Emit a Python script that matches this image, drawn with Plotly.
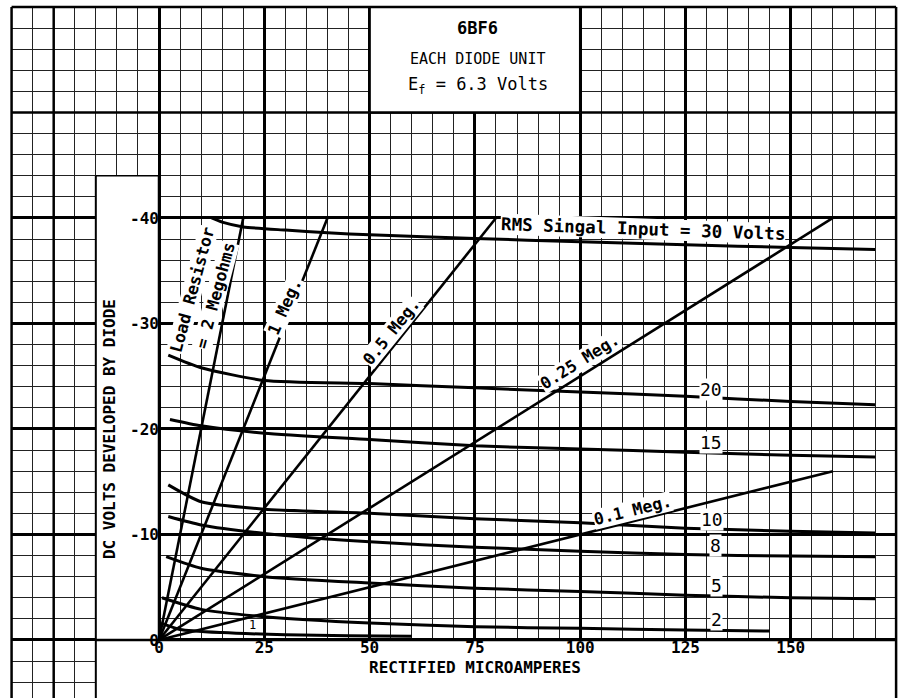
import plotly.graph_objects as go

# ---------------- data ----------------
# RMS signal input curves: rectified current (uA) vs DC volts developed
i_30 = [12.5, 15, 20, 30, 40, 50, 75, 100, 125, 150, 170]
v_30 = [-40.0, -39.6, -39.15, -38.85, -38.6, -38.4, -38.05, -37.75, -37.45, -37.2, -37.0]
i_20 = [2.2, 10, 25, 50, 75, 100, 125, 150, 170]
v_20 = [-27.0, -25.8, -24.6, -24.3, -23.9, -23.5, -23.1, -22.6, -22.3]
i_15 = [2.6, 10, 25, 50, 75, 100, 125, 150, 170]
v_15 = [-20.9, -20.3, -19.6, -19.0, -18.4, -18.1, -17.8, -17.5, -17.35]
i_10 = [2.2, 10, 25, 50, 75, 100, 125, 150, 170]
v_10 = [-14.7, -13.1, -12.4, -12.0, -11.5, -11.1, -10.6, -10.3, -10.15]
i_8 = [2.2, 10, 25, 50, 75, 100, 125, 150, 170]
v_8 = [-11.7, -10.9, -10.1, -9.3, -8.8, -8.4, -8.1, -7.95, -7.9]
i_5 = [1.7, 10, 25, 50, 75, 100, 125, 150, 170]
v_5 = [-7.9, -6.8, -6.0, -5.4, -4.9, -4.6, -4.25, -4.0, -3.9]
i_2 = [0.7, 10, 25, 50, 75, 100, 125, 145]
v_2 = [-4.0, -2.9, -2.2, -1.6, -1.25, -1.1, -0.95, -0.85]
i_1 = [0.5, 5, 15, 30, 45, 60]
v_1 = [-1.6, -1.0, -0.7, -0.5, -0.4, -0.35]

signal_curves = [(i_30, v_30), (i_20, v_20), (i_15, v_15), (i_10, v_10),
                 (i_8, v_8), (i_5, v_5), (i_2, v_2), (i_1, v_1)]

# Load resistor lines (megohms) and their current extent (uA)
load_R = [2, 1, 0.5, 0.25, 0.1]
load_I_max = [20, 40, 80, 160, 160]

# Ticks
x_tick_vals = [0, 25, 50, 75, 100, 125, 150]
x_tick_text = ["0", "25", "50", "75", "100", "125", "150"]
y_tick_vals = [-40, -30, -20, -10, 0]
y_tick_text = ["-40", "-30", "-20", "-10", "0"]

# Curve labels
load_labels = ["Load Resistor", "= 2 Megohms", "1 Meg.", "0.5 Meg.", "0.25 Meg.", "0.1 Meg."]
signal_labels = ["20", "15", "10", "8", "5", "2", "1"]

# ---------------- figure ----------------
MONO = "DejaVu Sans Mono"
fig = go.Figure()

for xs, ys in signal_curves:
    fig.add_trace(go.Scatter(x=xs, y=ys, mode="lines",
                             line=dict(color="black", width=3, shape="spline", smoothing=0.6),
                             hoverinfo="skip", showlegend=False))

for r, imax in zip(load_R, load_I_max):
    fig.add_trace(go.Scatter(x=[0, imax], y=[0, -r * imax], mode="lines",
                             line=dict(color="black", width=2.6),
                             hoverinfo="skip", showlegend=False))

XR = [-37.75, 178.3]
YR = [5.50, -60.66]

shapes = []
def white(x0, x1, y0, y1):
    shapes.append(dict(type="rect", x0=x0, x1=x1, y0=y0, y1=y1, xref="x", yref="y",
                       fillcolor="white", line=dict(width=0), layer="between"))
def seg(x0, y0, x1, y1, w=2.5):
    shapes.append(dict(type="line", x0=x0, x1=x1, y0=y0, y1=y1, xref="x", yref="y",
                       line=dict(color="black", width=w), layer="between"))

# extra heavy rulings of the graph paper (outside the labelled ticks)
seg(-25, -60, -25, 12)
seg(-35, -50, 175, -50)

# blank margins outside the graph paper
white(-45, -35, 12, -70)
white(175, 185, 12, -70)
white(-45, 185, -60, -70)
# title box, axis label areas
white(50, 100, -60, -50)
white(-15, 0, -44, 12)
white(-15, 175, 0, 12)

# paper outline and cut-outs
seg(-35, -60, -35, 12)
seg(175, -60, 175, 12)
seg(-35, -60, 175, -60)
seg(50, -60, 50, -50)
seg(100, -60, 100, -50)
seg(50, -50, 100, -50)
seg(-15, -44, -15, 12, 2)
seg(-15, -44, 0, -44, 1.5)
seg(0, -44, 0, 0)
seg(-15, 0, 175, 0)

fig.update_layout(shapes=shapes)

ann = []
def label(text, x, y, size=17, angle=0, bold=True, bg="white", family=MONO):
    ann.append(dict(text=text, x=x, y=y, xref="x", yref="y", showarrow=False,
                    textangle=angle, bgcolor=bg, borderpad=0,
                    font=dict(family=family, size=size, color="black",
                              weight="bold" if bold else "normal")))

# load line labels
label(load_labels[0], 8.0, -33.2, 16.5, -75)
label(load_labels[1], 13.3, -32.6, 16.5, -75)
label(load_labels[2], 29.9, -31.6, 16.5, -66)
label(load_labels[3], 55.3, -29.2, 16.5, -51)
label(load_labels[4], 99.9, -26.4, 16.5, -32)
label(load_labels[5], 112.3, -12.3, 16.5, -14)
label("RMS Singal Input = 30 Volts", 114.9, -39.0, 17.5, 2)
# signal labels
label(signal_labels[0], 131.0, -23.7, 18, 0, False)
label(signal_labels[1], 131.0, -18.7, 18, 0, False)
label(signal_labels[2], 131.3, -11.4, 18, 0, False)
label(signal_labels[3], 132.2, -9.0, 18, 0, False)
label(signal_labels[4], 132.4, -5.2, 18, 0, False)
label(signal_labels[5], 132.4, -1.9, 18, 0, False)
label(signal_labels[6], 22.3, -1.4, 12, 0, False, "rgba(0,0,0,0)")
# title box
label("6BF6", 75.7, -58.0, 17, 0, True, "rgba(0,0,0,0)")
label("EACH DIODE UNIT", 75.7, -55.1, 15, 0, False, "rgba(0,0,0,0)")
label("E<sub>f</sub> = 6.3 Volts", 75.7, -52.6, 17, 0, False, "rgba(0,0,0,0)")
# axis titles
label("DC VOLTS DEVELOPED BY DIODE", -11.6, -20.0, 16, -90, True, "rgba(0,0,0,0)")
label("RECTIFIED MICROAMPERES", 75, 2.65, 16, 0, True, "rgba(0,0,0,0)")

fig.update_layout(annotations=ann)

tickfont = dict(family=MONO, size=16, color="black", weight="bold")
fig.update_xaxes(range=XR, tickmode="array", tickvals=x_tick_vals, ticktext=x_tick_text,
                 showgrid=True, gridcolor="black", gridwidth=2.5,
                 minor=dict(tickmode="linear", tick0=0, dtick=5, showgrid=True,
                            gridcolor="#222", gridwidth=1),
                 zeroline=False, showline=False, ticks="", anchor="free", position=0.089,
                 tickfont=tickfont, fixedrange=True)
fig.update_yaxes(range=YR, tickmode="array", tickvals=y_tick_vals, ticktext=y_tick_text,
                 showgrid=True, gridcolor="black", gridwidth=2.5,
                 minor=dict(tickmode="linear", tick0=0, dtick=2, showgrid=True,
                            gridcolor="#222", gridwidth=1),
                 zeroline=False, showline=False, ticks="", anchor="free", position=0.1747,
                 tickfont=tickfont, fixedrange=True)

fig.update_layout(width=910, height=698, margin=dict(l=0, r=0, t=0, b=0),
                  plot_bgcolor="white", paper_bgcolor="white", showlegend=False,
                  hovermode=False)

fig.write_html("out.html", config={"displayModeBar": False},
               post_script="document.body.style.margin='0px';")
